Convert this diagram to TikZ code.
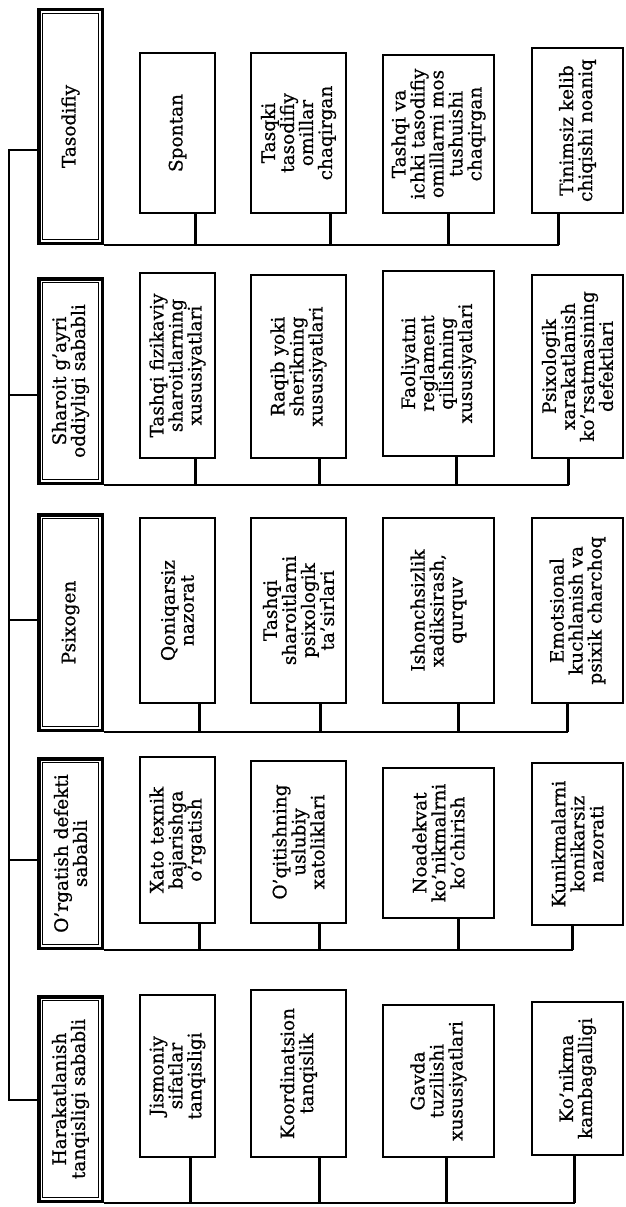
\documentclass[tikz,border=0pt]{standalone}
\usepackage{fontspec}
\setmainfont{DejaVu Serif}[FakeBold=0.7]

\begin{document}
\begin{tikzpicture}[x=1pt, y=-1pt, thick,
    catbox/.style={draw, rotate=90, line width=3.5pt,
      align=center, inner sep=2pt, minimum height=63.5pt, font=\fontsize{18.5}{19}\selectfont},
    subbox/.style={draw, rotate=90, line width=1.8pt, align=center, inner sep=2pt,
      font=\fontsize{18.5}{19}\selectfont},
    bus/.style={line width=2.8pt},
    stub/.style={line width=2.4pt}]
    \useasboundingbox (0,0) rectangle (625,1207);

    % Category boxes
    \node[catbox, minimum width=233.5pt] (tas) at (70.5,126.5) {Tasodifiy};
    \node[catbox, minimum width=204.5pt] (sha) at (70.5,381) {Sharoit g'ayri\\oddiyligi sababli};
    \node[catbox, minimum width=215.5pt] (psi) at (70.5,622.5) {Psixogen};
    \node[catbox, minimum width=189.5pt] (org) at (70.5,853.5) {O'rgatish defekti\\sababli};
    \node[catbox, minimum width=204.5pt] (har) at (70.5,1099) {Harakatlanish\\tanqisligi sababli};
    % inner frame lines
    \foreach \c in {tas,sha,psi,org,har}
      \draw[line width=0.8pt] ([shift={(5.5pt,-5.5pt)}]\c.north east) rectangle ([shift={(-5.5pt,5.5pt)}]\c.south west);

    % Trunk
    \coordinate (tr1) at (9,150);
    \coordinate (tr2) at (9,395);
    \coordinate (tr3) at (9,620);
    \coordinate (tr4) at (9,860);
    \coordinate (tr5) at (9,1100);
    \draw[stub] (tr1 -| tas.north) -- (tr1) -- (tr5) -- (tr5 -| har.north);
    \draw[stub] (tr2) -- (tr2 -| sha.north);
    \draw[stub] (tr3) -- (tr3 -| psi.north);
    \draw[stub] (tr4) -- (tr4 -| org.north);

    % Tasodifiy
    \node[subbox, minimum width=160pt, minimum height=75pt] (tas1) at (177.5,133) {Spontan};
    \node[subbox, minimum width=160pt, minimum height=95pt] (tas2) at (298.5,133) {Tasqki\\tasodifiy\\omillar\\chaqirgan};
    \node[subbox, minimum width=158pt, minimum height=111pt] (tas3) at (438.5,134) {Tashqi va\\ichki tasodifiy\\omillarni mos\\tushuishi\\chaqirgan};
    \node[subbox, minimum width=165pt, minimum height=91pt] (tas4) at (577.5,130.5) {Tinimsiz kelib\\chiqishi noaniq};
    \draw[stub] ([xshift=18pt]tas1.west) -- ([xshift=18pt]tas1.west |- tas.south west);
    \draw[stub] ([xshift=32pt]tas2.west) -- ([xshift=32pt]tas2.west |- tas.south west);
    \draw[stub] ([xshift=10pt]tas3.west) -- ([xshift=10pt]tas3.west |- tas.south west);
    \draw[stub] ([xshift=-19pt]tas4.west) -- ([xshift=-19pt]tas4.west |- tas.south west) coordinate (tasend);
    \draw[bus] (tas.south west) -- (tasend);

    % Sharoit g'ayri oddiyligi
    \node[subbox, minimum width=185pt, minimum height=75pt] (sha1) at (177.5,365.5) {Tashqi fizikaviy\\sharoitlarning\\xususiyatlari};
    \node[subbox, minimum width=183pt, minimum height=95pt] (sha2) at (298.5,366.5) {Raqib yoki\\sherikning\\xususiyatlari};
    \node[subbox, minimum width=185pt, minimum height=111pt] (sha3) at (438.5,363.5) {Faoliyatni\\reglament\\qilishning\\xususiyatlari};
    \node[subbox, minimum width=183pt, minimum height=91pt] (sha4) at (577.5,366.5) {Psixologik\\xarakatlanish\\ko'rsatmasining\\defektlari};
    \draw[stub] ([xshift=18pt]sha1.west) -- ([xshift=18pt]sha1.west |- sha.south west);
    \draw[stub] ([xshift=21pt]sha2.west) -- ([xshift=21pt]sha2.west |- sha.south west);
    \draw[stub] ([xshift=18pt]sha3.west) -- ([xshift=18pt]sha3.west |- sha.south west);
    \draw[stub] ([xshift=-9pt]sha4.west) -- ([xshift=-9pt]sha4.west |- sha.south west) coordinate (shaend);
    \draw[bus] (sha.south west) -- (shaend);

    % Psixogen
    \node[subbox, minimum width=185pt, minimum height=75pt] (psi1) at (177.5,610.5) {Qoniqarsiz\\nazorat};
    \node[subbox, minimum width=185pt, minimum height=95pt] (psi2) at (298.5,610.5) {Tashqi\\sharoitlarni\\psixologik\\ta'sirlari};
    \node[subbox, minimum width=185pt, minimum height=111pt] (psi3) at (438.5,610.5) {Ishonchsizlik\\xadiksirash,\\qurquv};
    \node[subbox, minimum width=185pt, minimum height=91pt] (psi4) at (577.5,610.5) {Emotsional\\kuchlanish va\\psixik charchoq};
    \draw[stub] ([xshift=22pt]psi1.west) -- ([xshift=22pt]psi1.west |- psi.south west);
    \draw[stub] ([xshift=22pt]psi2.west) -- ([xshift=22pt]psi2.west |- psi.south west);
    \draw[stub] ([xshift=20pt]psi3.west) -- ([xshift=20pt]psi3.west |- psi.south west);
    \draw[stub] ([xshift=-10pt]psi4.west) -- ([xshift=-10pt]psi4.west |- psi.south west) coordinate (psiend);
    \draw[bus] (psi.south west) -- (psiend);

    % O'rgatish defekti
    \node[subbox, minimum width=166pt, minimum height=75pt] (org1) at (177.5,840) {Xato texnik\\bajarishga\\o'rgatish};
    \node[subbox, minimum width=162pt, minimum height=95pt] (org2) at (298.5,842) {O'qitishning\\uslubiy\\xatoliklari};
    \node[subbox, minimum width=150pt, minimum height=111pt] (org3) at (438.5,843) {Noadekvat\\ko'nikmalrni\\ko'chirish};
    \node[subbox, minimum width=162pt, minimum height=91pt] (org4) at (577.5,844) {Kunikmalarni\\konikarsiz\\nazorati};
    \draw[stub] ([xshift=22pt]org1.west) -- ([xshift=22pt]org1.west |- org.south west);
    \draw[stub] ([xshift=21pt]org2.west) -- ([xshift=21pt]org2.west |- org.south west);
    \draw[stub] ([xshift=20pt]org3.west) -- ([xshift=20pt]org3.west |- org.south west);
    \draw[stub] ([xshift=-5pt]org4.west) -- ([xshift=-5pt]org4.west |- org.south west) coordinate (orgend);
    \draw[bus] (org.south west) -- (orgend);

    % Harakatlanish tanqisligi
    \node[subbox, minimum width=162pt, minimum height=75pt] (har1) at (177.5,1076) {Jismoniy\\sifatlar\\tanqisligi};
    \node[subbox, minimum width=167pt, minimum height=95pt] (har2) at (298.5,1073.5) {Koordinatsion\\tanqislik};
    \node[subbox, minimum width=152pt, minimum height=111pt] (har3) at (438.5,1081) {Gavda\\tuzilishi\\xususiyatlari};
    \node[subbox, minimum width=153pt, minimum height=91pt] (har4) at (577.5,1078.5) {Ko'nikma\\kambagalligi};
    \draw[stub] ([xshift=13pt]har1.west) -- ([xshift=13pt]har1.west |- har.south west);
    \draw[stub] ([xshift=21pt]har2.west) -- ([xshift=21pt]har2.west |- har.south west);
    \draw[stub] ([xshift=8pt]har3.west) -- ([xshift=8pt]har3.west |- har.south west);
    \draw[stub] ([xshift=-3pt]har4.west) -- ([xshift=-3pt]har4.west |- har.south west) coordinate (harend);
    \draw[bus] (har.south west) -- (harend);
\end{tikzpicture}
\end{document}
